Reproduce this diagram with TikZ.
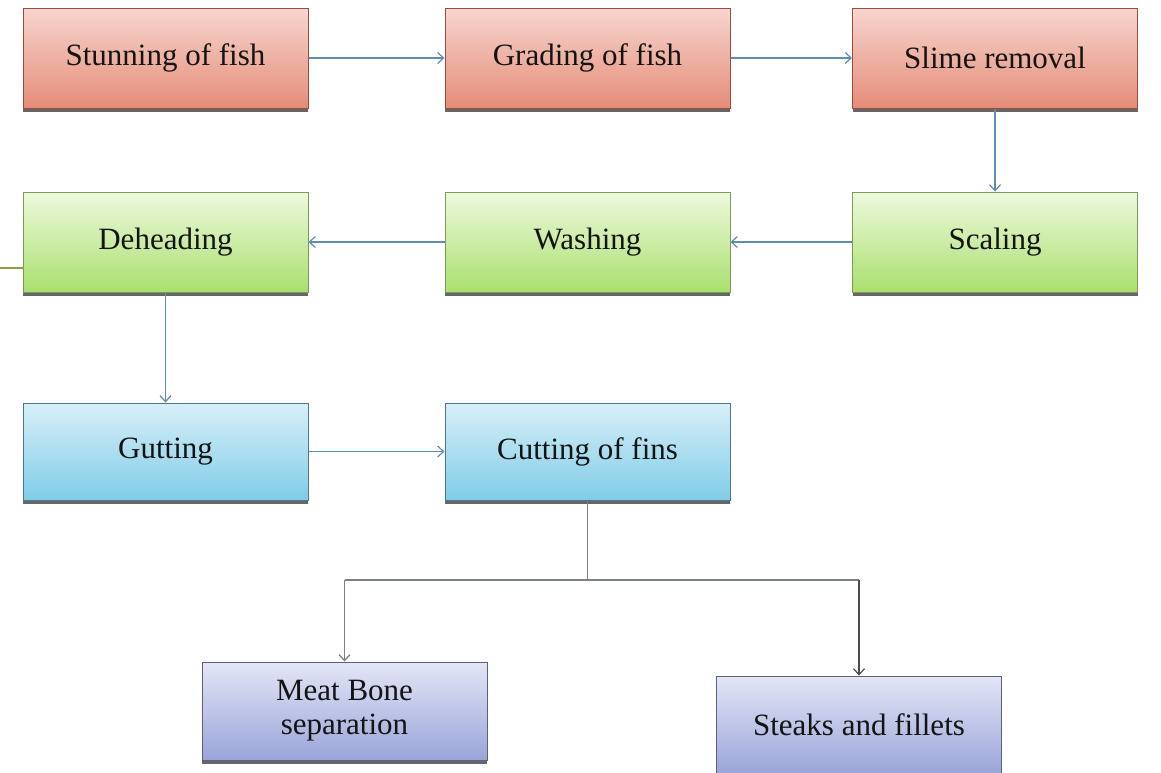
\documentclass[tikz,border=0pt]{standalone}
\usepackage{fontspec}
\setmainfont{Liberation Serif}
\usetikzlibrary{shadows,arrows.meta}
\definecolor{redtop}{HTML}{F7D6CF}
\definecolor{redbot}{HTML}{E58C78}
\definecolor{redline}{HTML}{9E4A40}
\definecolor{greentop}{HTML}{EEF9DD}
\definecolor{greenbot}{HTML}{A9E06E}
\definecolor{greenline}{HTML}{7E9A5A}
\definecolor{bluetop}{HTML}{D8EFF8}
\definecolor{bluebot}{HTML}{80CCE8}
\definecolor{blueline}{HTML}{4E7688}
\definecolor{purptop}{HTML}{E4E6F6}
\definecolor{purpbot}{HTML}{99A4D9}
\definecolor{purpline}{HTML}{5C6080}
\definecolor{arrowblue}{HTML}{5E8DB0}
\definecolor{treegray}{HTML}{7A7F85}
\definecolor{olive}{HTML}{8FA03A}
\tikzset{
  box/.style={rectangle, minimum width=285pt, minimum height=100pt, inner sep=2pt,
    align=center, font=\fontsize{31}{34}\selectfont, text=black!92,
    general shadow={fill=black!60, shadow xshift=0pt, shadow yshift=-4pt}},
  redbox/.style={box, draw=redline, line width=1pt, top color=redtop, bottom color=redbot},
  greenbox/.style={box, draw=greenline, line width=1pt, top color=greentop, bottom color=greenbot},
  bluebox/.style={box, draw=blueline, line width=1pt, top color=bluetop, bottom color=bluebot, minimum height=97pt},
  purpbox/.style={box, draw=purpline, line width=1pt, top color=purptop, bottom color=purpbot, minimum height=98pt},
  flow/.style={draw=arrowblue, line width=1.2pt, -{Straight Barb[length=6pt,width=11pt]}},
  tree/.style={draw=treegray, line width=1.2pt},
  treearrow/.style={tree, -{Straight Barb[length=6pt,width=11pt]}}
}
\begin{document}
\begin{tikzpicture}[x=1pt,y=-1pt]
\useasboundingbox (0,0) rectangle (1161,772);
\fill[white] (0,0) rectangle (1161,772);
% short olive line at left edge
\coordinate (ol1) at (0,268);
\coordinate (ol2) at (26,268);
\draw[olive, line width=2.5pt] (ol1) -- (ol2);

\node[redbox] (stun) at (165.5,58) {Stunning of fish};
\node[redbox] (grade) at (587.5,58) {Grading of fish};
\node[redbox] (slime) at (995,58) {Slime removal};
\node[greenbox] (dehead) at (165.5,242) {Deheading};
\node[greenbox] (wash) at (587.5,242) {Washing};
\node[greenbox] (scale) at (995,242) {Scaling};
\node[bluebox] (gut) at (165.5,451.5) {Gutting};
\node[bluebox] (fins) at (587.5,451.5) {Cutting of fins};
\node[purpbox] (meat) at (344.5,711) {Meat Bone\\separation};
\node[purpbox] (steak) at (859,725) {Steaks and fillets};

\draw[flow] (stun) -- (grade);
\draw[flow] (grade) -- (slime);
\draw[flow] (slime) -- (scale);
\draw[flow] (scale) -- (wash);
\draw[flow] (wash) -- (dehead);
\draw[flow] (dehead) -- (gut);
\draw[flow] (gut) -- (fins);

\coordinate (split) at (587.5,580);
\coordinate (lft) at (344.5,580);
\coordinate (rgt) at (859,580);
\draw[tree] (fins.south) -- (split);
\draw[tree] (lft) -- (rgt);
\draw[treearrow] (lft) -- (meat.north);
\draw[treearrow, draw=black!70] (rgt) -- (steak.north);
\end{tikzpicture}
\end{document}
